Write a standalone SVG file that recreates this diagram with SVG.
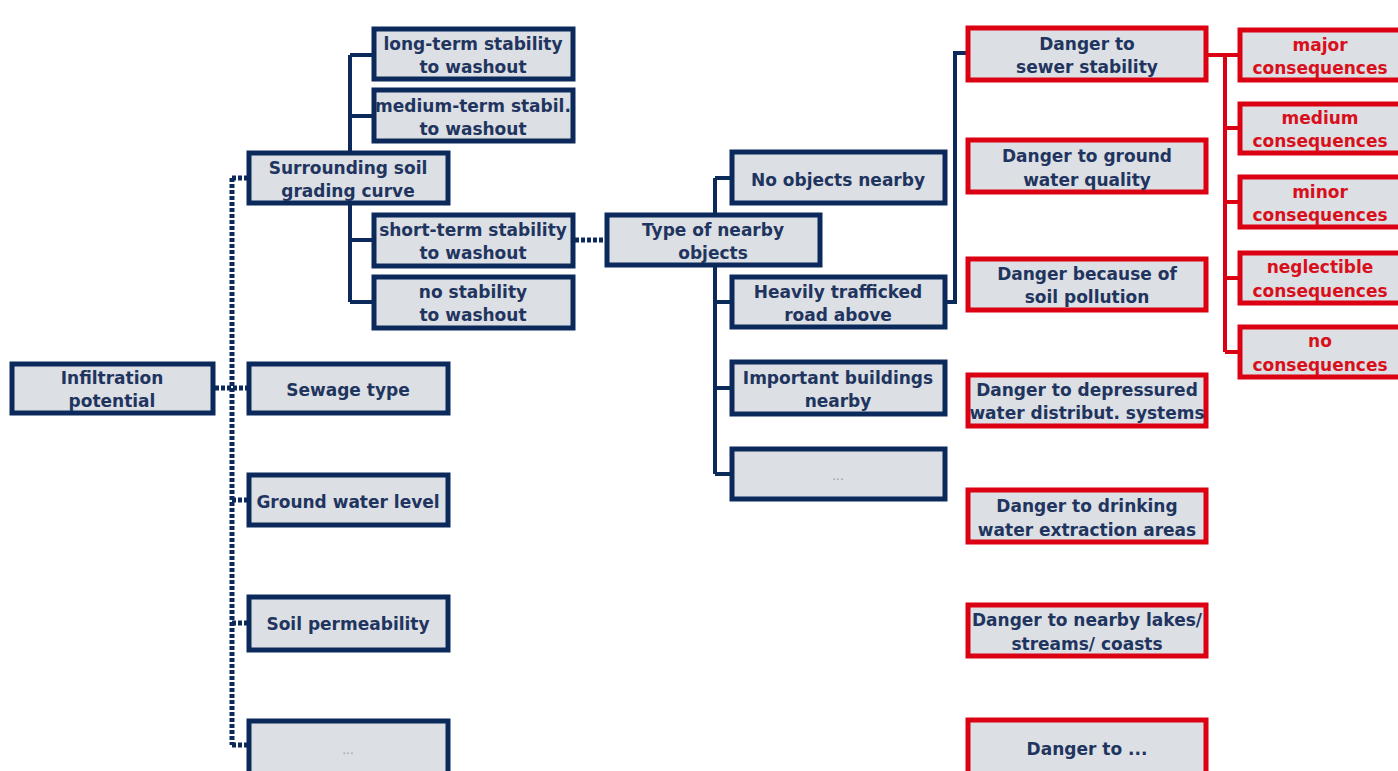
<svg xmlns="http://www.w3.org/2000/svg" width="1398" height="771" viewBox="0 0 1398 771">
<style>
.b{fill:#dcdfe3;stroke:#0b2a5b;stroke-width:5}
.r{fill:#dcdfe3;stroke:#db0012;stroke-width:5}
.t{font-family:"DejaVu Sans",Verdana,sans-serif;font-weight:bold;font-size:17px;fill:#1f3560;text-anchor:middle}
.tr{font-family:"DejaVu Sans",Verdana,sans-serif;font-weight:bold;font-size:17px;fill:#d8101c;text-anchor:middle}
.dots{font-family:"DejaVu Sans",sans-serif;font-size:12px;fill:#9a9ea6;text-anchor:middle}
.s{fill:none;stroke:#0b2a5b;stroke-width:4}
.d{fill:none;stroke:#0b2a5b;stroke-width:5;stroke-dasharray:4 2}
.sr{fill:none;stroke:#db0012;stroke-width:4}
</style>
<rect width="1398" height="771" fill="#ffffff"/>
<g id="connectors">
<path class="d" d="M215,388H247M232,178V745M232,178H247M232,500H247M232,623H247M232,745H247"/>
<path class="d" d="M575,240H605"/>
<path class="s" d="M350,55V302M350,55H372M350,116H372M350,240H372M350,302H372"/>
<path class="s" d="M715,178V474M715,178H730M715,302H730M715,388H730M715,474H730"/>
<path class="s" d="M947,302H955V53H966"/>
<path class="sr" d="M1208,55H1238M1225,55V352M1225,128H1238M1225,202H1238M1225,278H1238M1225,352H1238"/>
</g>
<g id="infiltration"><rect class="b" x="12" y="364" width="201" height="49"/><text class="t" x="112" y="384">Infiltration</text><text class="t" x="112" y="407">potential</text></g>
<g id="surrounding"><rect class="b" x="249" y="153" width="199" height="50"/><text class="t" x="348" y="174">Surrounding soil</text><text class="t" x="348" y="197">grading curve</text></g>
<g id="sewage"><rect class="b" x="249" y="364" width="199" height="49"/><text class="t" x="348" y="396">Sewage type</text></g>
<g id="groundwater"><rect class="b" x="249" y="475" width="199" height="50"/><text class="t" x="348" y="508">Ground water level</text></g>
<g id="permeability"><rect class="b" x="249" y="597" width="199" height="53"/><text class="t" x="348" y="630">Soil permeability</text></g>
<g id="more1"><rect class="b" x="249" y="721" width="199" height="55"/><text class="dots" x="348" y="754">...</text></g>
<g id="longterm"><rect class="b" x="374" y="29" width="199" height="50"/><text class="t" x="473" y="50">long-term stability</text><text class="t" x="473" y="73">to washout</text></g>
<g id="mediumterm"><rect class="b" x="374" y="90" width="199" height="51"/><text class="t" x="473" y="112">medium-term stabil.</text><text class="t" x="473" y="135">to washout</text></g>
<g id="shortterm"><rect class="b" x="374" y="215" width="199" height="51"/><text class="t" x="473" y="236">short-term stability</text><text class="t" x="473" y="259">to washout</text></g>
<g id="nostability"><rect class="b" x="374" y="277" width="199" height="51"/><text class="t" x="473" y="298">no stability</text><text class="t" x="473" y="321">to washout</text></g>
<g id="typenearby"><rect class="b" x="607" y="215" width="213" height="50"/><text class="t" x="713" y="236">Type of nearby</text><text class="t" x="713" y="259">objects</text></g>
<g id="noobjects"><rect class="b" x="732" y="152" width="213" height="51"/><text class="t" x="838" y="186">No objects nearby</text></g>
<g id="heavily"><rect class="b" x="732" y="277" width="213" height="50"/><text class="t" x="838" y="298">Heavily trafficked</text><text class="t" x="838" y="321">road above</text></g>
<g id="buildings"><rect class="b" x="732" y="362" width="213" height="52"/><text class="t" x="838" y="384">Important buildings</text><text class="t" x="838" y="407">nearby</text></g>
<g id="more2"><rect class="b" x="732" y="449" width="213" height="50"/><text class="dots" x="838" y="480">...</text></g>
<g id="sewerstab"><rect class="r" x="968" y="28" width="238" height="52"/><text class="t" x="1087" y="50">Danger to</text><text class="t" x="1087" y="73">sewer stability</text></g>
<g id="groundq"><rect class="r" x="968" y="140" width="238" height="52"/><text class="t" x="1087" y="162">Danger to ground</text><text class="t" x="1087" y="186">water quality</text></g>
<g id="soilpoll"><rect class="r" x="968" y="259" width="238" height="51"/><text class="t" x="1087" y="280">Danger because of</text><text class="t" x="1087" y="303">soil pollution</text></g>
<g id="depress"><rect class="r" x="968" y="375" width="238" height="51"/><text class="t" x="1087" y="396">Danger to depressured</text><text class="t" x="1087" y="419">water distribut. systems</text></g>
<g id="drinking"><rect class="r" x="968" y="490" width="238" height="52"/><text class="t" x="1087" y="512">Danger to drinking</text><text class="t" x="1087" y="536">water extraction areas</text></g>
<g id="lakes"><rect class="r" x="968" y="605" width="238" height="51"/><text class="t" x="1087" y="626">Danger to nearby lakes/</text><text class="t" x="1087" y="650">streams/ coasts</text></g>
<g id="dangermore"><rect class="r" x="968" y="720" width="238" height="56"/><text class="t" x="1087" y="755">Danger to ...</text></g>
<g id="major"><rect class="r" x="1240" y="30" width="165" height="50"/><text class="tr" x="1320" y="51">major</text><text class="tr" x="1320" y="74">consequences</text></g>
<g id="medium"><rect class="r" x="1240" y="104" width="165" height="49"/><text class="tr" x="1320" y="124">medium</text><text class="tr" x="1320" y="147">consequences</text></g>
<g id="minor"><rect class="r" x="1240" y="177" width="165" height="50"/><text class="tr" x="1320" y="198">minor</text><text class="tr" x="1320" y="221">consequences</text></g>
<g id="neglectible"><rect class="r" x="1240" y="253" width="165" height="50"/><text class="tr" x="1320" y="273">neglectible</text><text class="tr" x="1320" y="297">consequences</text></g>
<g id="noconseq"><rect class="r" x="1240" y="327" width="165" height="50"/><text class="tr" x="1320" y="347">no</text><text class="tr" x="1320" y="371">consequences</text></g>
</svg>
